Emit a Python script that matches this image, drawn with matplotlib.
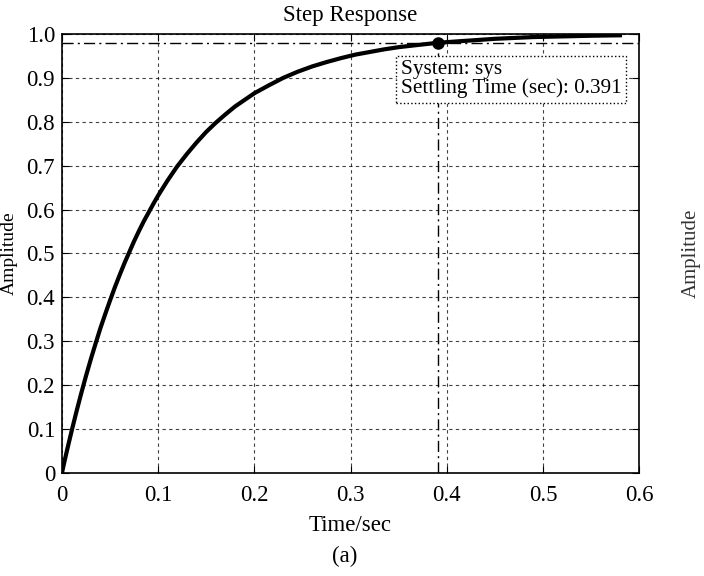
import matplotlib.pyplot as plt

# step response
t = [0, 0.0025, 0.005, 0.0075, 0.01, 0.015, 0.02, 0.025, 0.03, 0.035, 0.04, 0.045, 0.05,
     0.055, 0.06, 0.065, 0.07, 0.075, 0.08, 0.085, 0.09, 0.095, 0.10, 0.11, 0.12, 0.13,
     0.14, 0.15, 0.16, 0.17, 0.18, 0.19, 0.20, 0.215, 0.23, 0.245, 0.26, 0.275, 0.29,
     0.305, 0.32, 0.335, 0.35, 0.37, 0.391, 0.41, 0.43, 0.45, 0.47, 0.49, 0.51, 0.53,
     0.55, 0.58]
y = [0, 0.025, 0.049, 0.072, 0.095, 0.139, 0.181, 0.221, 0.259, 0.295, 0.33, 0.362, 0.393,
     0.423, 0.451, 0.478, 0.503, 0.528, 0.551, 0.573, 0.593, 0.613, 0.632, 0.667, 0.699,
     0.727, 0.753, 0.777, 0.798, 0.817, 0.835, 0.85, 0.865, 0.883, 0.9, 0.914, 0.926,
     0.936, 0.945, 0.953, 0.959, 0.965, 0.97, 0.975, 0.98, 0.983, 0.986, 0.989, 0.991,
     0.993, 0.994, 0.995, 0.996, 0.997]
settle_t = 0.391
settle_y = 0.98

xticks = [0, 0.1, 0.2, 0.3, 0.4, 0.5, 0.6]
xlabels = ['0', '0.1', '0.2', '0.3', '0.4', '0.5', '0.6']
yticks = [0, 0.1, 0.2, 0.3, 0.4, 0.5, 0.6, 0.7, 0.8, 0.9, 1.0]
ylabels = ['0', '0.1', '0.2', '0.3', '0.4', '0.5', '0.6', '0.7', '0.8', '0.9', '1.0']

plt.rcParams['font.family'] = ['Liberation Serif', 'DejaVu Serif']
plt.rcParams['font.size'] = 16.5

fig = plt.figure(figsize=(7.04, 5.76), dpi=100)
ax = fig.add_axes([0.088, 0.179, 0.82, 0.762])

ax.plot(t, y, '-', color='black', lw=3)
ax.axhline(settle_y, color='black', lw=1, linestyle=(0, (8, 3, 1.5, 3)))
ax.plot([settle_t, settle_t], [0, settle_y], color='black', lw=1, linestyle=(0, (8, 3, 1.5, 3)))
ax.plot(settle_t, settle_y, 'o', color='black', ms=8)

ax.text(0.352, 0.94, 'System: sys\nSettling Time (sec): 0.391', fontsize=15.3, va='top', ha='left',
        linespacing=0.95,
        bbox=dict(boxstyle='square,pad=0.2', fc='white', ec='black', lw=1, linestyle=':'))

ax.set_xlim(0, 0.6)
ax.set_ylim(0, 1.0)
ax.set_xticks(xticks)
ax.set_xticklabels(xlabels)
ax.set_yticks(yticks)
ax.set_yticklabels(ylabels)
ax.tick_params(axis='x', direction='in', top=True, length=5, pad=9)
ax.tick_params(axis='y', direction='in', right=True, length=5, pad=5)
ax.grid(True, color='black', lw=0.8, linestyle=(0, (3, 3)), alpha=0.75)
for s in ax.spines.values():
    s.set_linewidth(1.2)

ax.set_title('Step Response', fontsize=16.5, pad=9)
ax.set_xlabel('Time/sec', fontsize=16.5, labelpad=6)
fig.text(0.49, 0.025, '(a)', fontsize=16.5, ha='center')
fig.text(0.013, 0.56, 'Amplitude', fontsize=14, rotation=90, ha='center', va='center')
fig.text(0.982, 0.56, 'Amplitude', fontsize=15, rotation=90, ha='center', va='center', color='#333333')

plt.savefig('out.png')
